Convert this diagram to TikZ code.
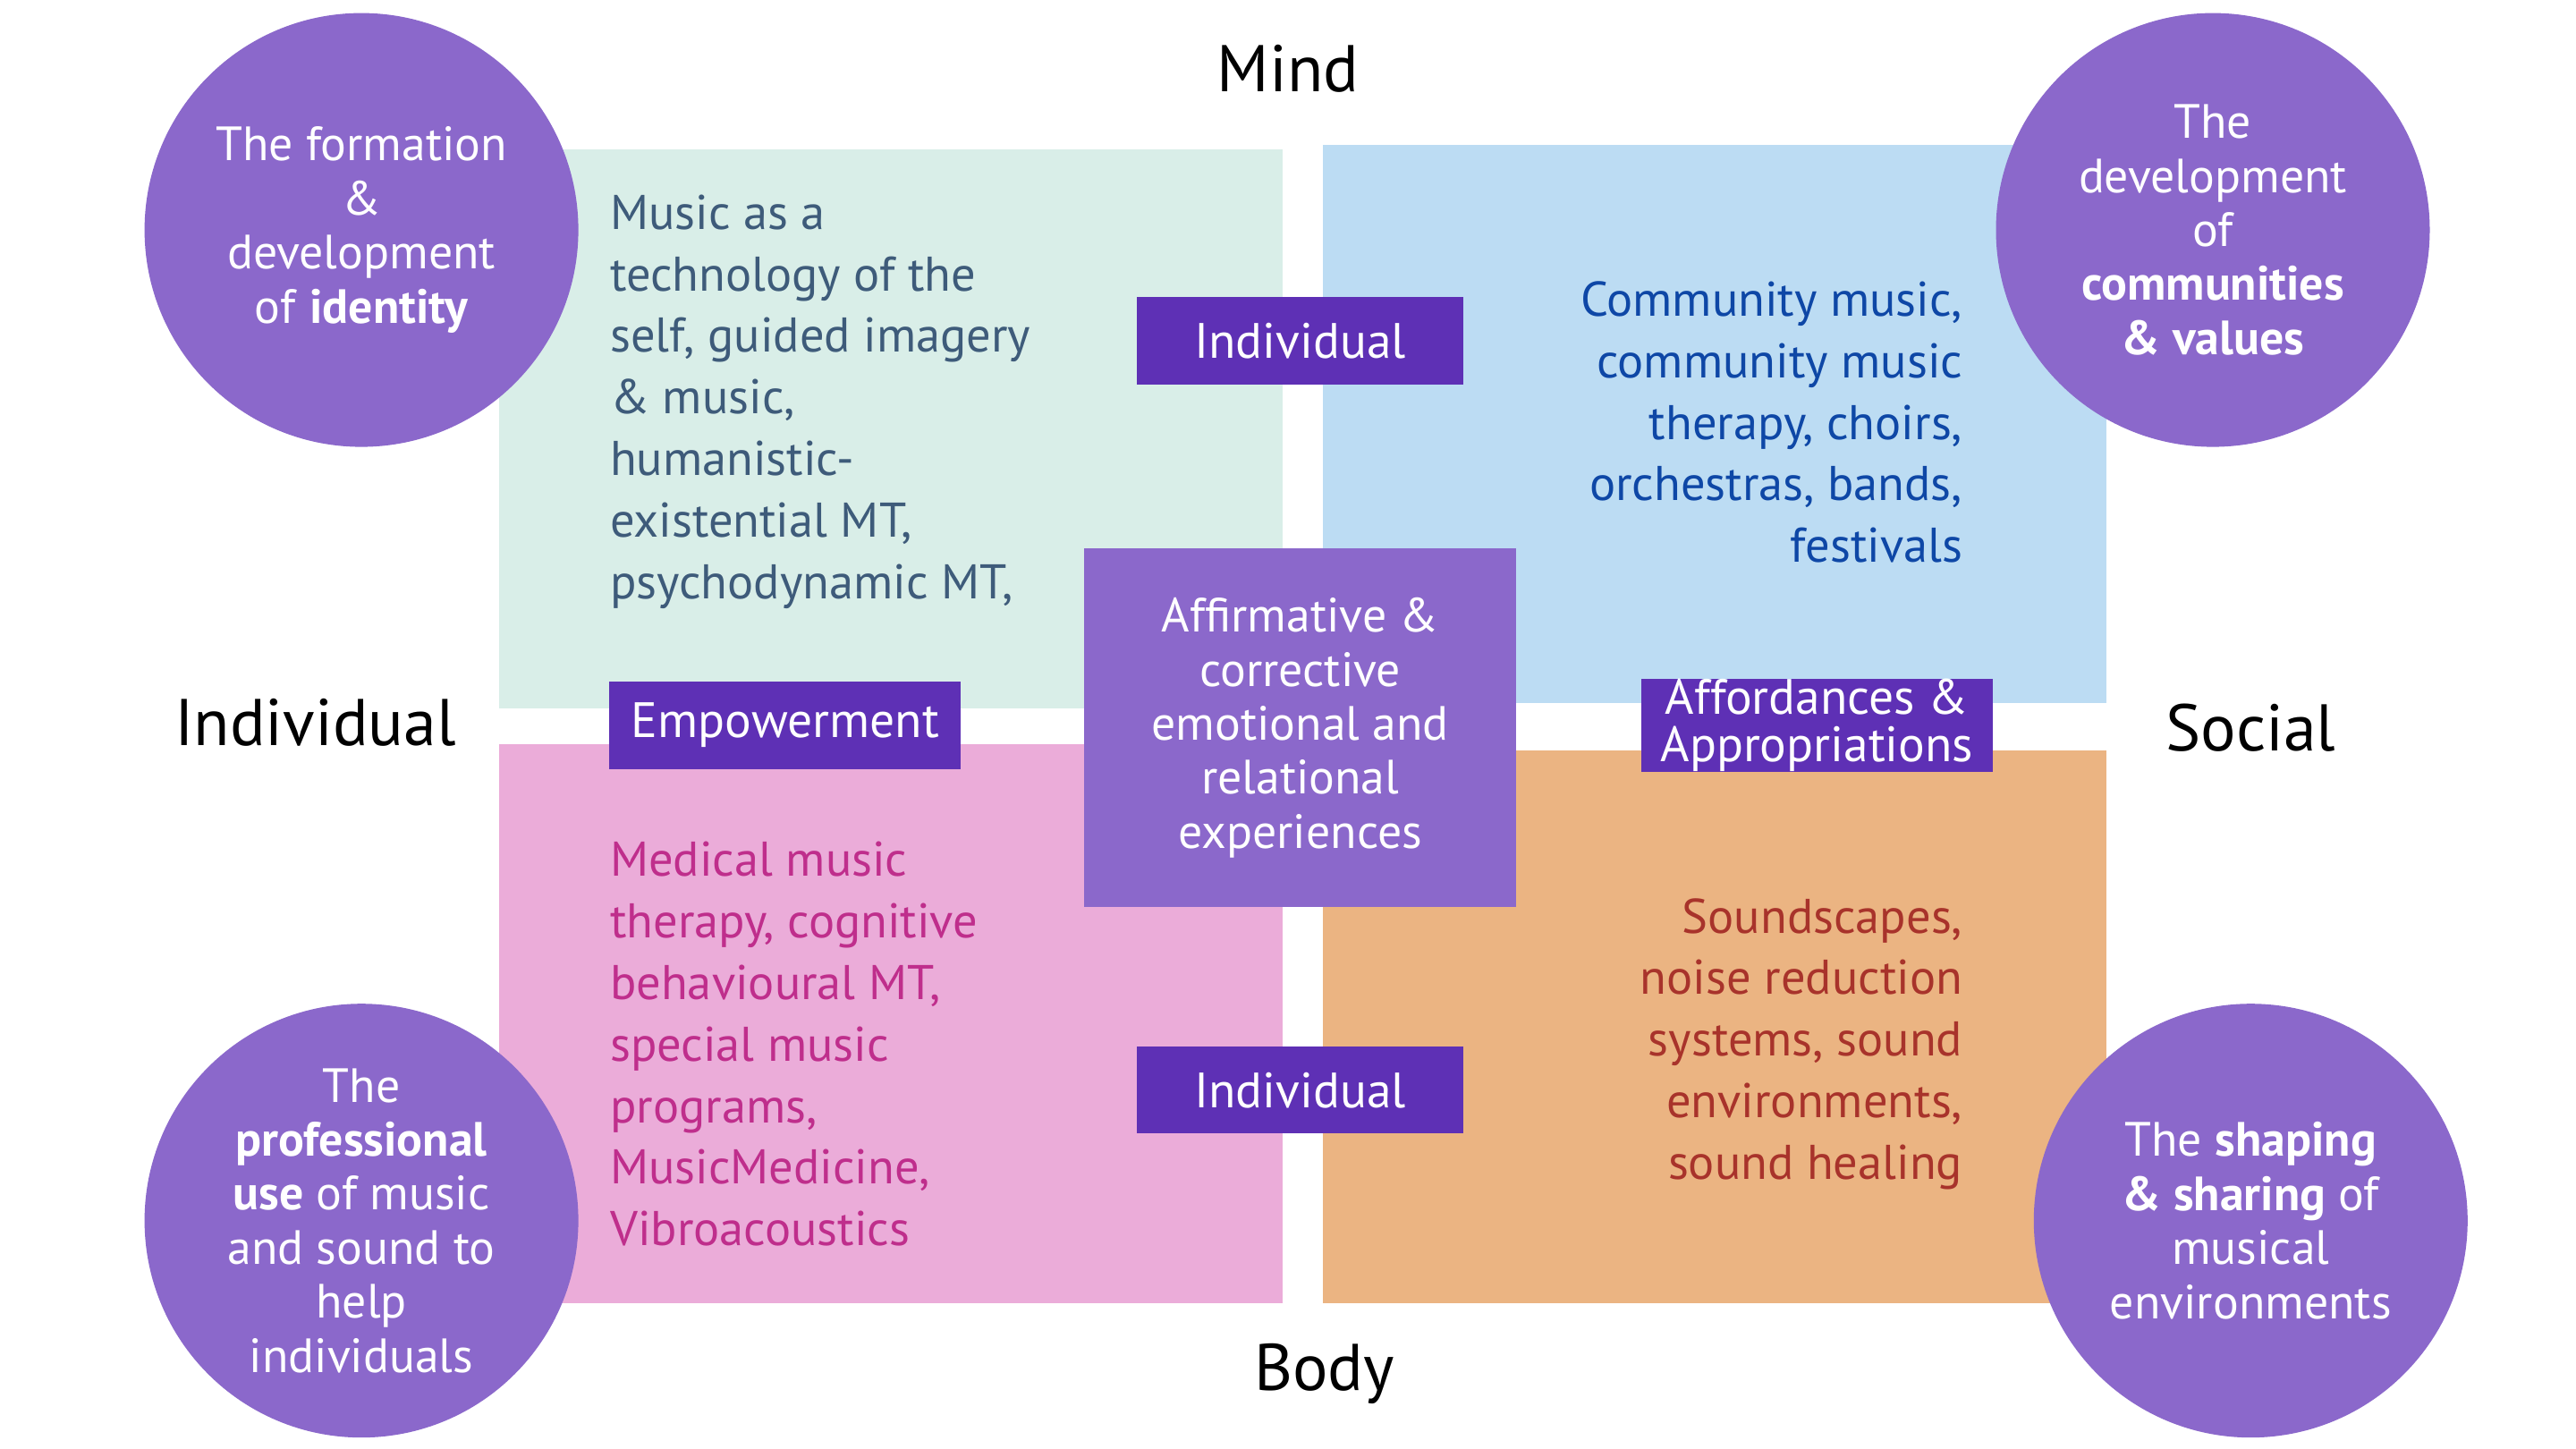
\documentclass[tikz,border=0pt]{standalone}
\usepackage{fontspec}
\setmainfont{PT Sans}
\usetikzlibrary{positioning}

\definecolor{mindind}{RGB}{217,238,232}
\definecolor{mindsoc}{RGB}{188,220,243}
\definecolor{bodyind}{RGB}{235,172,217}
\definecolor{bodysoc}{RGB}{235,180,130}
\definecolor{mindindtext}{RGB}{62,91,122}
\definecolor{mindsoctext}{RGB}{14,71,166}
\definecolor{bodyindtext}{RGB}{191,46,140}
\definecolor{bodysoctext}{RGB}{168,51,43}
\definecolor{bubblepurple}{RGB}{139,104,203}
\definecolor{tagpurple}{RGB}{94,48,181}

\begin{document}
\begin{tikzpicture}[
    quad/.style={rectangle, inner sep=0pt, minimum width=8.761cm, minimum height=6.245cm},
    quadtext/.style={inner sep=0pt, font=\fontsize{15.5}{19.6}\selectfont},
    bubble/.style={circle, fill=bubblepurple, inner sep=0pt, minimum size=4.85cm},
    bubbletext/.style={text=white, align=center, font=\fontsize{15.3}{17.2}\selectfont},
    tag/.style={rectangle, fill=tagpurple, text=white, inner sep=0pt, minimum height=0.974cm, font=\fontsize{15.8}{15.2}\selectfont},
    pole/.style={font=\fontsize{21}{24}\selectfont}
  ]
  \useasboundingbox (0,0) rectangle (28.8,-16.2);

  % ---------------- Quadrants ----------------
  \node[quad, fill=mindind] (mindind) at (9.964,-4.794) {};
  \node[quad, fill=mindsoc] (mindsoc) at (19.166,-4.739) {};
  \node[quad, fill=bodyind] (bodyind) at (9.964,-11.443) {};
  \node[quad, fill=bodysoc, minimum height=6.171cm] (bodysoc) at (19.166,-11.480) {};

  % Quadrant texts
  \node[quadtext, text=mindindtext, anchor=west, align=left] (mindindtxt) at (6.814,-4.491)
    {Music as a\\technology of the\\self, guided imagery\\\& music,\\humanistic-\\existential MT,\\psychodynamic MT,};
  \node[quadtext, text=mindsoctext, anchor=east, align=right] (mindsoctxt) at (21.949,-4.720)
    {Community music,\\community music\\therapy, choirs,\\orchestras, bands,\\festivals};
  \node[quadtext, text=bodyindtext, anchor=west, align=left] (bodyindtxt) at (6.814,-11.672)
    {Medical music\\therapy, cognitive\\behavioural MT,\\special music\\programs,\\MusicMedicine,\\Vibroacoustics};
  \node[quadtext, text=bodysoctext, anchor=east, align=right] (bodysoctxt) at (21.949,-11.672)
    {Soundscapes,\\noise reduction\\systems, sound\\environments,\\sound healing};

  % ---------------- Centre ----------------
  \node[rectangle, fill=bubblepurple, text=white, align=center, inner sep=0pt,
        minimum width=4.831cm, minimum height=4.004cm, font=\fontsize{15.3}{17.2}\selectfont] (core) at (14.537,-8.137)
    {Affirmative \&\\corrective\\emotional and\\relational\\experiences};

  % Tags
  \node[tag, minimum width=3.655cm] (tagmind) at (14.537,-3.811) {Individual};
  \node[tag, minimum width=3.655cm] (tagbody) at (14.537,-12.187) {Individual};
  \node[tag, minimum width=3.931cm] (tagind) at (8.779,-8.109) {Empowerment};
  \node[tag, minimum width=3.931cm, align=center] (tagsoc) at (20.314,-8.109) {Affordances \&\\Appropriations};

  % ---------------- Bubbles ----------------
  \node[bubble] (identity) at (4.041,-2.571) {};
  \node[bubble] (community) at (24.740,-2.571) {};
  \node[bubble] (professional) at (4.041,-13.647) {};
  \node[bubble] (shaping) at (25.163,-13.647) {};

  \node[bubbletext] (identitytxt) at (identity) {The formation\\\&\\development\\of \textbf{identity}};
  \node[bubbletext] (communitytxt) at (community) {The\\development\\of\\\textbf{communities}\\\textbf{\& values}};
  \node[bubbletext] (professionaltxt) at (professional) {The\\\textbf{professional}\\\textbf{use} of music\\and sound to\\help\\individuals};
  \node[bubbletext] (shapingtxt) at (shaping) {The \textbf{shaping}\\\textbf{\& sharing} of\\musical\\environments};

  % ---------------- Poles ----------------
  \node[pole] (mind) at (14.40,-0.771) {Mind};
  \node[pole] (individual) at (3.526,-8.081) {Individual};
  \node[pole] (social) at (25.163,-8.137) {Social};
  \node[pole] (body) at (14.804,-15.355) {Body};
\end{tikzpicture}
\end{document}
